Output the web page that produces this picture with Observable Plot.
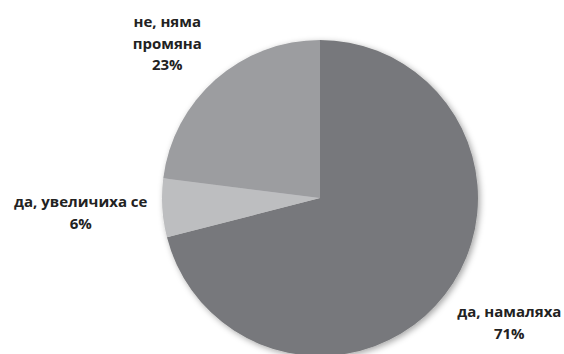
<!DOCTYPE html>
<html><head><meta charset="utf-8">
<script src="https://cdn.jsdelivr.net/npm/d3@7"></script>
<script src="https://cdn.jsdelivr.net/npm/@observablehq/plot@0.6"></script>
<style>body{margin:0;background:#fff}</style>
</head><body><div id="chart"></div>
<script>
// ---- data ----
const categories = ["да, намаляха", "да, увеличиха се", "не, няма\nпромяна"];
const values = [71, 6, 23];
const percentLabels = ["71%", "6%", "23%"];
const colors = ["#77787b", "#bdbec0", "#9c9da0"];

// ---- layout ----
const W = 564, H = 354, cx = 320, cy = 198, R = 158;
const labelRadius = 1.4;              // in pie radii
const labelNudge = [[14, -13], [-19, -1], [-7, 9]]; // px

const data = categories.map((c, i) => ({category: c, value: values[i], pct: percentLabels[i], color: colors[i]}));
const arcs = d3.pie().sort(null).value(d => d.value)(data);

const labels = arcs.map((a, i) => {
  const mid = (a.startAngle + a.endAngle) / 2;
  return {
    x: Math.sin(mid) * labelRadius + labelNudge[i][0] / R,
    y: Math.cos(mid) * labelRadius - labelNudge[i][1] / R,
    text: a.data.category + "\n" + a.data.pct
  };
});

function pieMark(index, scales) {
  const g = d3.create("svg:g");
  const ox = scales.x(0), oy = scales.y(0), r = scales.x(1) - scales.x(0);
  g.append("defs").append("filter").attr("id", "shadow")
    .attr("x", "-20%").attr("y", "-20%").attr("width", "140%").attr("height", "140%")
    .append("feDropShadow").attr("dx", 2).attr("dy", 2).attr("stdDeviation", 3)
    .attr("flood-color", "#000").attr("flood-opacity", 0.35);
  const arc = d3.arc().innerRadius(0).outerRadius(r);
  const pg = g.append("g").attr("transform", `translate(${ox},${oy})`).attr("filter", "url(#shadow)");
  pg.selectAll("path").data(arcs).join("path")
    .attr("d", arc).attr("fill", d => d.data.color);
  return g.node();
}

const chart = Plot.plot({
  width: W, height: H,
  margin: 0,
  x: {domain: [-cx / R, (W - cx) / R], range: [0, W], axis: null},
  y: {domain: [-(H - cy) / R, cy / R], range: [H, 0], axis: null},
  style: {fontFamily: "'Open Sans', sans-serif", background: "#fff"},
  marks: [
    pieMark,
    Plot.text(labels, {x: "x", y: "y", text: "text", fontSize: 15, fontWeight: "bold",
      fill: "#222", lineHeight: 1.45, textAnchor: "middle"})
  ]
});
document.getElementById("chart").append(chart);
</script>
</body></html>
